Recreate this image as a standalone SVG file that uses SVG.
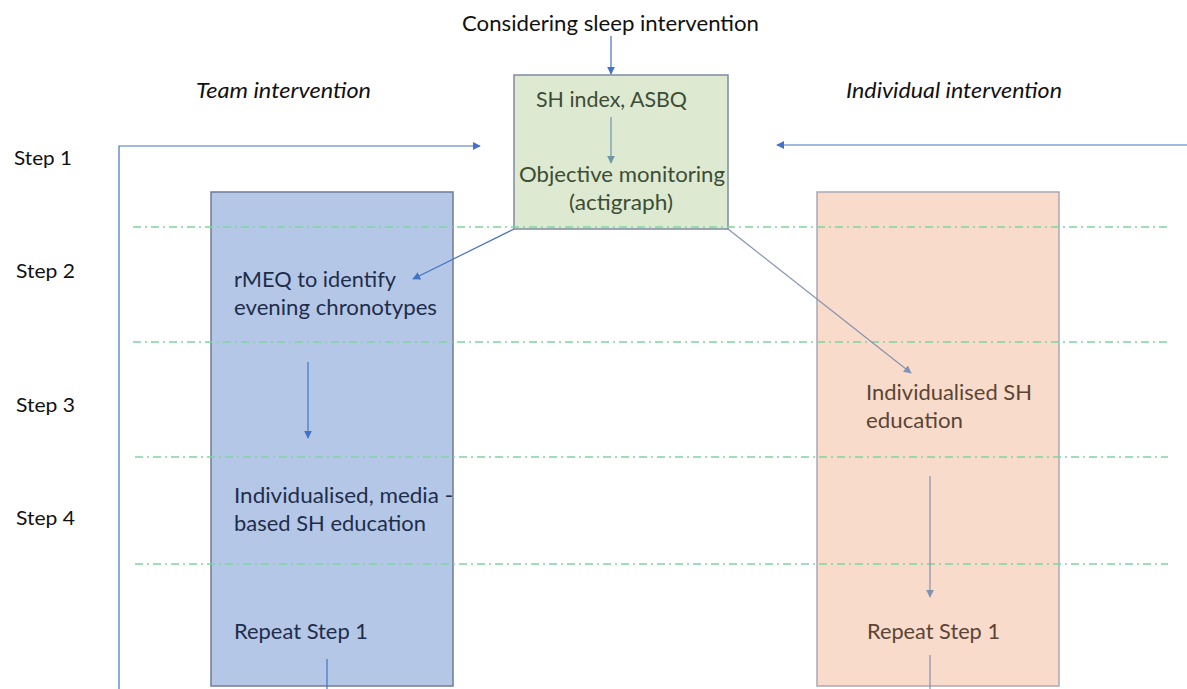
<svg xmlns="http://www.w3.org/2000/svg" width="1187" height="689" viewBox="0 0 1187 689">
<defs>
<style>
text{font-family:Lato,"Open Sans","Liberation Sans",sans-serif;font-size:22px}
.step{font-size:20px;fill:#111}
.it{font-style:italic;fill:#111}
.grid{stroke:#7ed6a0;stroke-width:1.3;stroke-dasharray:8 4 2 4;fill:none}
.cb{stroke:#4472c4;stroke-width:1.2;fill:none}
.cg{stroke:#8392b0;stroke-width:1.2;fill:none}
</style>
<marker id="ab" viewBox="0 0 10 10" refX="9" refY="5" markerWidth="8" markerHeight="8" markerUnits="userSpaceOnUse" orient="auto"><path d="M0,0L10,5L0,10z" fill="#4472c4"/></marker>
<marker id="ag" viewBox="0 0 10 10" refX="9" refY="5" markerWidth="8" markerHeight="8" markerUnits="userSpaceOnUse" orient="auto"><path d="M0,0L10,5L0,10z" fill="#8392b0"/></marker>
<marker id="at" viewBox="0 0 10 10" refX="9" refY="5" markerWidth="8" markerHeight="8" markerUnits="userSpaceOnUse" orient="auto"><path d="M0,0L10,5L0,10z" fill="#6f95a8"/></marker>
</defs>
<rect width="1187" height="689" fill="#fff"/>
<text x="462" y="31" fill="#111" textLength="297" lengthAdjust="spacingAndGlyphs">Considering sleep intervention</text>
<text x="196" y="98" class="it" textLength="175" lengthAdjust="spacingAndGlyphs">Team intervention</text>
<text x="846" y="98" class="it" textLength="216" lengthAdjust="spacingAndGlyphs">Individual intervention</text>
<text x="14" y="165" class="step" textLength="58" lengthAdjust="spacingAndGlyphs">Step 1</text>
<text x="16" y="278" class="step" textLength="59" lengthAdjust="spacingAndGlyphs">Step 2</text>
<text x="16" y="412" class="step" textLength="59" lengthAdjust="spacingAndGlyphs">Step 3</text>
<text x="16" y="525" class="step" textLength="59" lengthAdjust="spacingAndGlyphs">Step 4</text>
<g id="team">
<rect x="211" y="192" width="242" height="494" fill="#b4c7e7" stroke="#6f7b95" stroke-width="1.5"/>
<text x="234" y="287" fill="#1f2d4a" textLength="162" lengthAdjust="spacingAndGlyphs">rMEQ to identify</text>
<text x="234" y="315" fill="#1f2d4a" textLength="203" lengthAdjust="spacingAndGlyphs">evening chronotypes</text>
<text x="234" y="503" fill="#1f2d4a" textLength="219" lengthAdjust="spacingAndGlyphs">Individualised, media -</text>
<text x="234" y="531" fill="#1f2d4a" textLength="192" lengthAdjust="spacingAndGlyphs">based SH education</text>
<text x="234" y="639" fill="#1f2d4a" textLength="134" lengthAdjust="spacingAndGlyphs">Repeat Step 1</text>
</g>
<g id="individual">
<rect x="817" y="192" width="242" height="494" fill="#f9dbcb" stroke="#a9a9b4" stroke-width="1.5"/>
<text x="866" y="400" fill="#5b4536" textLength="166" lengthAdjust="spacingAndGlyphs">Individualised SH</text>
<text x="866" y="428" fill="#5b4536" textLength="97" lengthAdjust="spacingAndGlyphs">education</text>
<text x="867" y="639" fill="#5b4536" textLength="133" lengthAdjust="spacingAndGlyphs">Repeat Step 1</text>
</g>
<g id="assessment">
<rect x="514" y="75" width="214" height="154" fill="#dde9d1" stroke="#7f8aa6" stroke-width="1.5"/>
<text x="536" y="107" fill="#3d4d34" textLength="151" lengthAdjust="spacingAndGlyphs">SH index, ASBQ</text>
<text x="519" y="182" fill="#3d4d34" textLength="206" lengthAdjust="spacingAndGlyphs">Objective monitoring</text>
<text x="569" y="210" fill="#3d4d34" textLength="104" lengthAdjust="spacingAndGlyphs">(actigraph)</text>
</g>
<g id="gridlines">
<line x1="133" y1="227" x2="1167" y2="227" class="grid"/>
<line x1="133" y1="342" x2="1167" y2="342" class="grid"/>
<line x1="135" y1="457" x2="1168" y2="457" class="grid"/>
<line x1="135" y1="564" x2="1168" y2="564" class="grid"/>
</g>
<g id="connectors">
<line x1="611" y1="36" x2="611" y2="74" class="cb" marker-end="url(#ab)"/>
<line x1="611" y1="117" x2="611" y2="163" stroke="#6f95a8" stroke-width="1.2" marker-end="url(#at)"/>
<polyline points="119,689 119,146 480,146" class="cb" marker-end="url(#ab)"/>
<line x1="1187" y1="145" x2="777" y2="145" class="cb" marker-end="url(#ab)"/>
<line x1="514" y1="229" x2="413" y2="279" class="cb" marker-end="url(#ab)"/>
<line x1="728" y1="229" x2="911" y2="373" class="cg" marker-end="url(#ag)"/>
<line x1="308" y1="362" x2="308" y2="438" class="cb" marker-end="url(#ab)"/>
<line x1="930" y1="476" x2="930" y2="597" class="cg" marker-end="url(#ag)"/>
<line x1="327" y1="659" x2="327" y2="689" class="cb"/>
<line x1="930" y1="655" x2="930" y2="689" class="cg"/>
</g>
</svg>
